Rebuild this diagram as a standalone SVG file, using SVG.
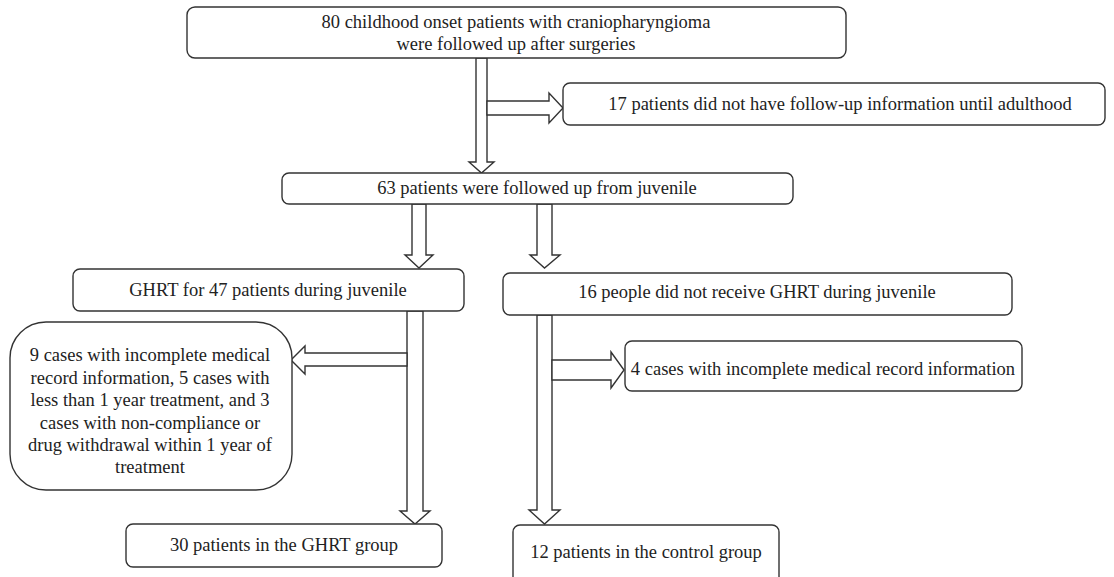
<svg xmlns="http://www.w3.org/2000/svg" width="1114" height="577" viewBox="0 0 1114 577">
<style>
.box{fill:#fff;stroke:#333;stroke-width:1.4}
.arr{fill:#fff;stroke:#333;stroke-width:1.4;stroke-linejoin:miter}
.t{font-family:"Liberation Serif","Times New Roman",serif;font-size:18.5px;fill:#222;text-anchor:middle}
</style>
<rect width="1114" height="577" fill="#fff"/>
<g id="connectors">
<polygon class="arr" points="476,58 487,58 487,162 494,162 481.5,173 469,162 476,162"/>
<polygon class="arr" points="487,101 549,101 549,93 563,108 549,123 549,115 487,115"/>
<polygon class="arr" points="412,204 426,204 426,255 433,255 419,268 405,255 412,255"/>
<polygon class="arr" points="537,204 552,204 552,255 560,255 544.5,268 530,255 537,255"/>
<polygon class="arr" points="407,311 423,311 423,511 430,511 415,524 400,511 407,511"/>
<polygon class="arr" points="407,353 305,353 305,346 291,360 305,374 305,366 407,366"/>
<polygon class="arr" points="537,315 552,315 552,510 560,510 544.5,524 529,510 537,510"/>
<polygon class="arr" points="552,360 611,360 611,352 624,370 611,388 611,380 552,380"/>
</g>
<g id="n1">
<rect class="box" x="187" y="7" width="659" height="51" rx="8"/>
<text class="t" x="516" y="28">80 childhood onset patients with craniopharyngioma</text>
<text class="t" x="516" y="50">were followed up after surgeries</text>
</g>
<g id="n2">
<rect class="box" x="563" y="83" width="542" height="42" rx="7"/>
<text class="t" x="840" y="110">17 patients did not have follow-up information until adulthood</text>
</g>
<g id="n3">
<rect class="box" x="282" y="173" width="511" height="31" rx="7"/>
<text class="t" x="537" y="194">63 patients were followed up from juvenile</text>
</g>
<g id="n4">
<rect class="box" x="73" y="269" width="391" height="42" rx="7"/>
<text class="t" x="268" y="296">GHRT for 47 patients during juvenile</text>
</g>
<g id="n5">
<rect class="box" x="503" y="273" width="509" height="42" rx="7"/>
<text class="t" x="757" y="298">16 people did not receive GHRT during juvenile</text>
</g>
<g id="n6">
<rect class="box" x="10" y="322" width="282" height="168" rx="36"/>
<text class="t" x="150" y="361">9 cases with incomplete medical</text>
<text class="t" x="150" y="384">record information, 5 cases with</text>
<text class="t" x="150" y="406">less than 1 year treatment, and 3</text>
<text class="t" x="150" y="429">cases with non-compliance or</text>
<text class="t" x="150" y="451">drug withdrawal within 1 year of</text>
<text class="t" x="150" y="473">treatment</text>
</g>
<g id="n7">
<rect class="box" x="625" y="341" width="397" height="50" rx="7"/>
<text class="t" x="823" y="375">4 cases with incomplete medical record information</text>
</g>
<g id="n8">
<rect class="box" x="126" y="524" width="316" height="43" rx="7"/>
<text class="t" x="284" y="551">30 patients in the GHRT group</text>
</g>
<g id="n9">
<rect class="box" x="513" y="525" width="266" height="60" rx="7"/>
<text class="t" x="646" y="558">12 patients in the control group</text>
</g>
</svg>
